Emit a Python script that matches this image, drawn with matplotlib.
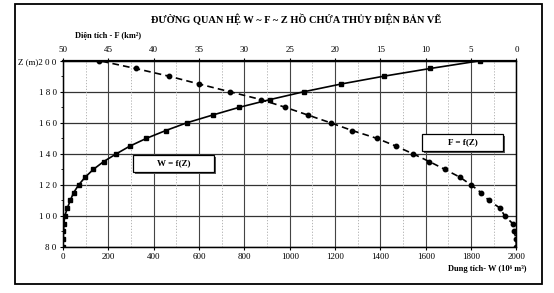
import matplotlib.pyplot as plt
from matplotlib.patches import Rectangle
from matplotlib.ticker import MultipleLocator

# Font chu co dau tieng Viet (serif giong ban scan)
plt.rcParams['font.family'] = ['Liberation Serif', 'DejaVu Serif']

# Du lieu doc tu hinh: cao trinh Z (m), dung tich W (10^6 m3), dien tich F (km2)
z = [80, 85, 90, 95, 100, 105, 110, 115, 120, 125, 130, 135, 140,
     145, 150, 155, 160, 165, 170, 175, 180, 185, 190, 195, 200]
w = [0, 1, 2, 4, 8, 19, 32, 47, 69, 98, 134, 179, 235,
     295, 368, 453, 546, 660, 778, 914, 1062, 1227, 1414, 1620, 1841]
f = [0, 0.05, 0.25, 0.4, 1.3, 1.8, 3.05, 3.9, 5.0, 6.25, 7.9, 9.6, 11.4,
     13.3, 15.4, 18.1, 20.5, 23.0, 25.5, 28.2, 31.6, 35.0, 38.3, 42.0, 46.0]

z_ticks = [80, 100, 120, 140, 160, 180, 200]
z_labels = ['8 0', '1 0 0', '1 2 0', '1 4 0', '1 6 0', '1 8 0', 'Z (m)2 0 0']
w_ticks = [0, 200, 400, 600, 800, 1000, 1200, 1400, 1600, 1800, 2000]
f_ticks = [50, 45, 40, 35, 30, 25, 20, 15, 10, 5, 0]

fig = plt.figure(figsize=(5.54, 2.93), dpi=100)
ax = fig.add_axes([0.1137, 0.157, 0.8186, 0.6358])

# Luoi
for zz in z_ticks:
    ax.axhline(zz, color='#333333', lw=0.9, zorder=1)
for ww in w_ticks:
    ax.axvline(ww, color='#444444', lw=0.8, zorder=1)
for ww in range(100, 2000, 200):
    ax.axvline(ww, color='#aaaaaa', lw=0.6, ls=(0, (1.5, 2)), zorder=1)

# Duong W = f(Z)
ax.plot(w, z, color='black', lw=1.2, marker='s', ms=3.2, zorder=3)
ax.set_xlim(0, 2000)
ax.set_ylim(80, 200)
ax.set_xticks(w_ticks)
ax.set_yticks(z_ticks)
ax.set_yticklabels(z_labels)
ax.yaxis.set_minor_locator(MultipleLocator(10))
ax.tick_params(axis='both', labelsize=6.5, length=2.5, width=0.8, pad=2)
ax.tick_params(axis='y', which='minor', length=1.5)
for s in ax.spines.values():
    s.set_linewidth(1.0)
ax.spines['top'].set_linewidth(1.6)

# Duong F = f(Z) tren truc phu
ax2 = ax.twiny()
ax2.plot(f, z, color='black', lw=1.2, ls=(0, (4, 2.5)), marker='o', ms=3.2, zorder=3)
ax2.set_xlim(50, 0)
ax2.set_xticks(f_ticks)
ax2.tick_params(axis='x', labelsize=6.5, length=2.5, width=0.8, pad=2)

# Nhan chu thich
for x0, y0, txt in [(0.1544, 0.4026, 'W = f(Z)'), (0.7916, 0.5153, 'F = f(Z)')]:
    ax.add_patch(Rectangle((x0 + 0.004, y0 - 0.012), 0.1786, 0.0913, transform=ax.transAxes,
                           facecolor='#555555', edgecolor='none', zorder=4))
    ax.add_patch(Rectangle((x0, y0), 0.1786, 0.0913, transform=ax.transAxes,
                           facecolor='white', edgecolor='black', lw=0.9, zorder=5))
    ax.text(x0 + 0.0893, y0 + 0.0456, txt, transform=ax.transAxes, ha='center', va='center',
            fontsize=6.5, fontweight='bold', zorder=6)

# Tieu de va ten truc
fig.text(0.534, 0.935, 'ĐƯỜNG QUAN HỆ W ~ F ~ Z HỒ CHỨA THỦY ĐIỆN BẢN VẼ',
         ha='center', va='center', fontsize=7.5, fontweight='bold')
fig.text(0.135, 0.877, 'Diện tích - F (km²)', ha='left', va='center',
         fontsize=6, fontweight='bold')
fig.text(0.95, 0.082, 'Dung tích- W (10⁶ m³)', ha='right', va='center',
         fontsize=6, fontweight='bold')

# Khung ngoai
fig.patches.append(Rectangle((0.027, 0.03), 0.952, 0.955, transform=fig.transFigure,
                             fill=False, edgecolor='black', lw=1.3))

plt.savefig('out.png', dpi=100)
